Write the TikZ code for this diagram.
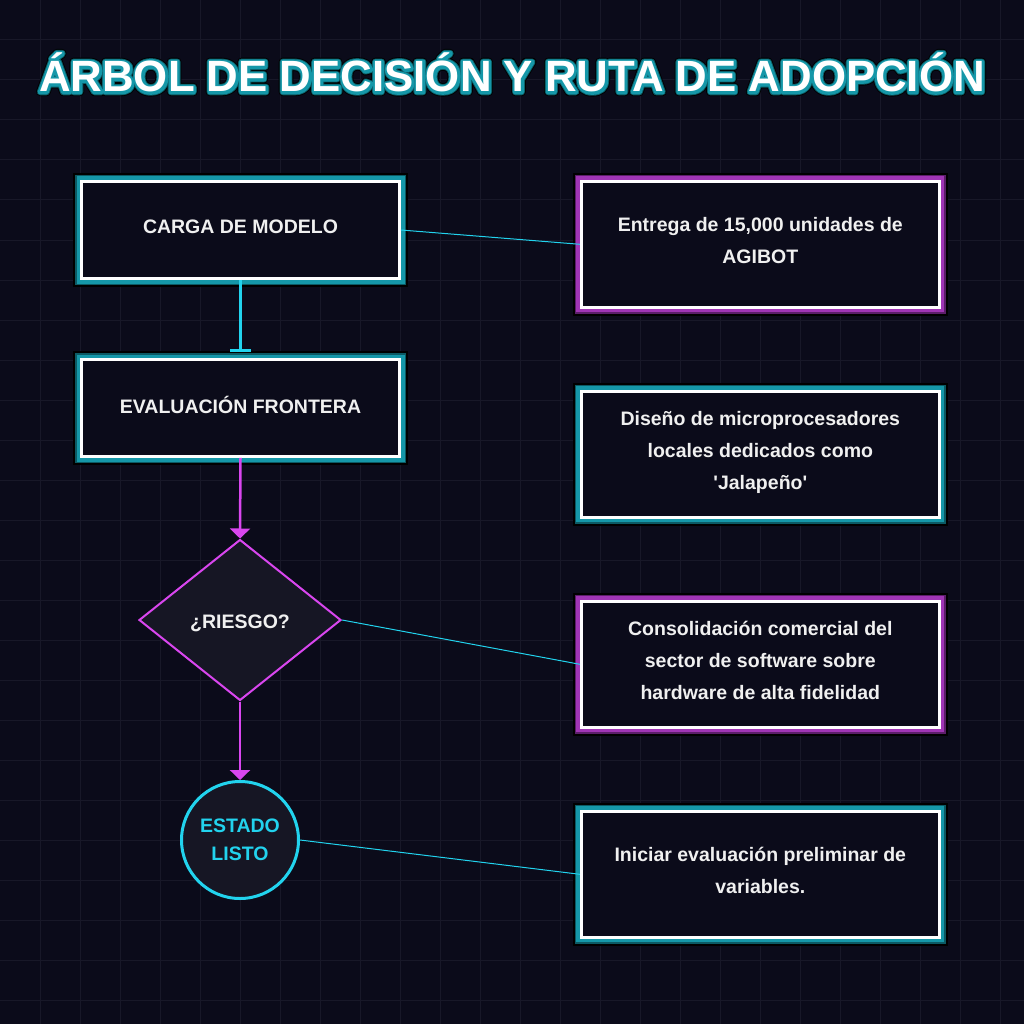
\documentclass[tikz,border=0pt]{standalone}
\usepackage{fontspec}
\newfontfamily\lsans{Liberation Sans}
\newfontfamily\glowK{Liberation Sans Bold}[FakeBold=19]
\newfontfamily\glowB{Liberation Sans Bold}[FakeBold=15]
\newfontfamily\glowA{Liberation Sans Bold}[FakeBold=11]
\usetikzlibrary{arrows.meta,shapes.geometric}
\definecolor{bg}{HTML}{0B0B1A}
\definecolor{gridc}{HTML}{181828}
\definecolor{cyanc}{HTML}{22D3EE}
\definecolor{magc}{HTML}{D946EF}
\definecolor{tealA}{HTML}{1597A8}
\definecolor{tealB}{HTML}{0C5A64}
\definecolor{purA}{HTML}{A035B5}
\definecolor{purB}{HTML}{5C1E6A}
\definecolor{nodefill}{HTML}{161624}
\definecolor{txt}{HTML}{F0F0F0}
\tikzset{
  boxbase/.style={rectangle, fill=bg, draw=white, line width=2.7, text=txt,
    font=\lsans\bfseries\fontsize{19.5}{32}\selectfont, align=center, inner sep=0,
    execute at end node={\rule[-7pt]{0pt}{0pt}}},
  tealglow/.style={preaction={draw=black,line width=17.4},
    preaction={draw=tealB,line width=13.4}, preaction={draw=tealA,line width=10}},
  purglow/.style={preaction={draw=black,line width=17.4},
    preaction={draw=purB,line width=13.4}, preaction={draw=purA,line width=10}},
  leftbox/.style={boxbase, tealglow, minimum width=318, minimum height=97},
  rightteal/.style={boxbase, tealglow, minimum width=358, minimum height=126},
  rightpur/.style={boxbase, purglow, minimum width=358, minimum height=126},
  thinlink/.style={draw=cyanc, line width=1},
  magarrow/.style={draw=magc, line width=2.5, -{Triangle[width=20,length=10]}},
  titlesize/.style={anchor=base, line join=round}
}
\newcommand{\titletext}{ÁRBOL DE DECISIÓN Y RUTA DE ADOPCIÓN}
\begin{document}
\begin{tikzpicture}[x=1pt,y=-1pt]
\fill[bg] (0,0) rectangle (1024,1024);
\useasboundingbox (0,0) rectangle (1024,1024);
\foreach \i in {40,80,...,1000} {
  \draw[gridc, line width=1] (\i,0) -- (\i,1024);
  \draw[gridc, line width=1] (0,\i) -- (1024,\i);
}
% title with glow (stroked copies behind)
\node[titlesize, text=black, font=\glowK\fontsize{43.8}{50}\selectfont] (titleK) at (512,92) {\pgfsetroundjoin\titletext};
\node[titlesize, text=tealB, font=\glowB\fontsize{43.8}{50}\selectfont] (titleB) at (512,92) {\pgfsetroundjoin\titletext};
\node[titlesize, text=tealA, font=\glowA\fontsize{43.8}{50}\selectfont] (titleA) at (512,92) {\pgfsetroundjoin\titletext};
\node[titlesize, text=white, font=\lsans\bfseries\fontsize{43.8}{50}\selectfont] (title) at (512,92) {\titletext};

% left column
\node[leftbox] (b1) at (240.5,230) {CARGA DE MODELO};
\node[leftbox] (b2) at (240.5,408) {EVALUACIÓN FRONTERA};
\node[diamond, fill=nodefill, draw=magc, line width=2, inner sep=0,
      minimum width=202, minimum height=161, text=txt,
      font=\lsans\bfseries\fontsize{19.5}{32}\selectfont] (d) at (240,620) {\rule{0pt}{20pt}¿RIESGO?};
\node[circle, fill=nodefill, draw=cyanc, line width=3, minimum size=117, inner sep=0,
      text=cyanc, align=center,
      font=\lsans\bfseries\fontsize{19.5}{28}\selectfont] (c) at (240,840) {ESTADO\\LISTO};

% right column
\node[rightpur] (r1) at (760.3,244.3) {Entrega de 15,000 unidades de\\AGIBOT};
\node[rightteal] (r2) at (760.3,454.3) {Diseño de microprocesadores\\locales dedicados como\\'Jalapeño'};
\node[rightpur] (r3) at (760.3,664.3) {Consolidación comercial del\\sector de software sobre\\hardware de alta fidelidad};
\node[rightteal] (r4) at (760.3,874.3) {Iniciar evaluación preliminar de\\variables.};

% connectors
\draw[draw=cyanc, line width=3, -{Bar[width=21,line width=3]}, shorten >=6.5] (b1.south) -- (b2.north);
\draw[magarrow] (b2.south) -- (d.north);
\draw[magarrow] (d.south) -- (c.north);
\draw[thinlink] (b1.east) -- (r1.west);
\draw[thinlink] (d.east) -- (r3.west);
\draw[thinlink] (c.east) -- (r4.west);
\end{tikzpicture}
\end{document}
